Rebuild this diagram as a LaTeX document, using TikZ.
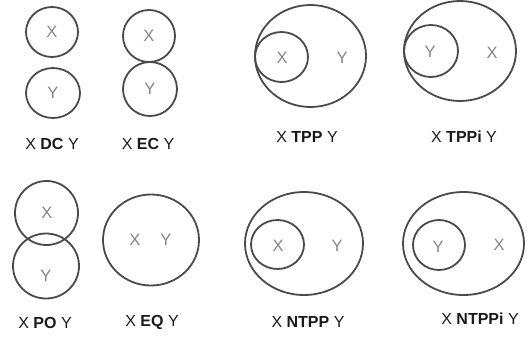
\documentclass[tikz,border=0pt]{standalone}
\usepackage{fontspec}
\setmainfont{Liberation Sans}
\definecolor{stroke}{HTML}{4A4A4A}
\definecolor{lbl}{HTML}{858585}
\definecolor{cap}{HTML}{1A1A1A}
\begin{document}
\begin{tikzpicture}[x=1pt,y=-1pt,
  reg/.style={draw=stroke,line width=1.8pt},
  inlbl/.style={text=lbl,font=\fontsize{16.5}{19}\selectfont,inner sep=0pt},
  caption/.style={text=cap,font=\fontsize{16}{19}\selectfont,inner sep=0pt}]
\useasboundingbox (0,0) rectangle (527,338);
% DC
\draw[reg] (52,32) ellipse [x radius=26,y radius=25];
\draw[reg] (53,93) ellipse [x radius=27,y radius=25];
\node[inlbl] (dcx) at (52,32) {X};
\node[inlbl] (dcy) at (53,93) {Y};
\node[caption] (dc) at (52,144) {X \textbf{DC} Y};
% EC
\draw[reg] (149,36) ellipse [x radius=26,y radius=26];
\draw[reg] (150,89) ellipse [x radius=27,y radius=27];
\node[inlbl] (ecx) at (149,36) {X};
\node[inlbl] (ecy) at (150,89) {Y};
\node[caption] (ec) at (148,144) {X \textbf{EC} Y};
% TPP
\draw[reg] (310.5,56) ellipse [x radius=55.5,y radius=51];
\draw[reg] (281.5,57) ellipse [x radius=26.5,y radius=25];
\node[inlbl] (tppx) at (282,58) {X};
\node[inlbl] (tppy) at (342,58) {Y};
\node[caption] (tpp) at (307,137) {X \textbf{TPP} Y};
% TPPi
\draw[reg] (460,51) ellipse [x radius=56,y radius=50];
\draw[reg] (431,51) ellipse [x radius=27,y radius=26];
\node[inlbl] (tppiy) at (430,52) {Y};
\node[inlbl] (tppix) at (492,53) {X};
\node[caption] (tppi) at (464,137) {X \textbf{TPPi} Y};
% PO
\draw[reg] (46.5,213) ellipse [x radius=31.5,y radius=32];
\draw[reg] (46,266) ellipse [x radius=33,y radius=32.5];
\node[inlbl] (pox) at (47,213) {X};
\node[inlbl] (poy) at (46,276) {Y};
\node[caption] (po) at (45,323) {X \textbf{PO} Y};
% EQ
\draw[reg] (151,240) ellipse [x radius=48,y radius=45.5];
\node[inlbl] (eqx) at (135,240) {X};
\node[inlbl] (eqy) at (166,240) {Y};
\node[caption] (eq) at (152,322) {X \textbf{EQ} Y};
% NTPP
\draw[reg] (304,243.5) ellipse [x radius=59,y radius=51.5];
\draw[reg] (277.5,244.5) ellipse [x radius=26.5,y radius=24.5];
\node[inlbl] (ntppx) at (278,246) {X};
\node[inlbl] (ntppy) at (337,246) {Y};
\node[caption] (ntpp) at (308,322) {X \textbf{NTPP} Y};
% NTPPi
\draw[reg] (463.5,243.5) ellipse [x radius=60.5,y radius=51.5];
\draw[reg] (439,245) ellipse [x radius=26,y radius=25];
\node[inlbl] (ntppiy) at (438,247) {Y};
\node[inlbl] (ntppix) at (499,245) {X};
\node[caption] (ntppi) at (480,319) {X \textbf{NTPPi} Y};
\end{tikzpicture}
\end{document}
